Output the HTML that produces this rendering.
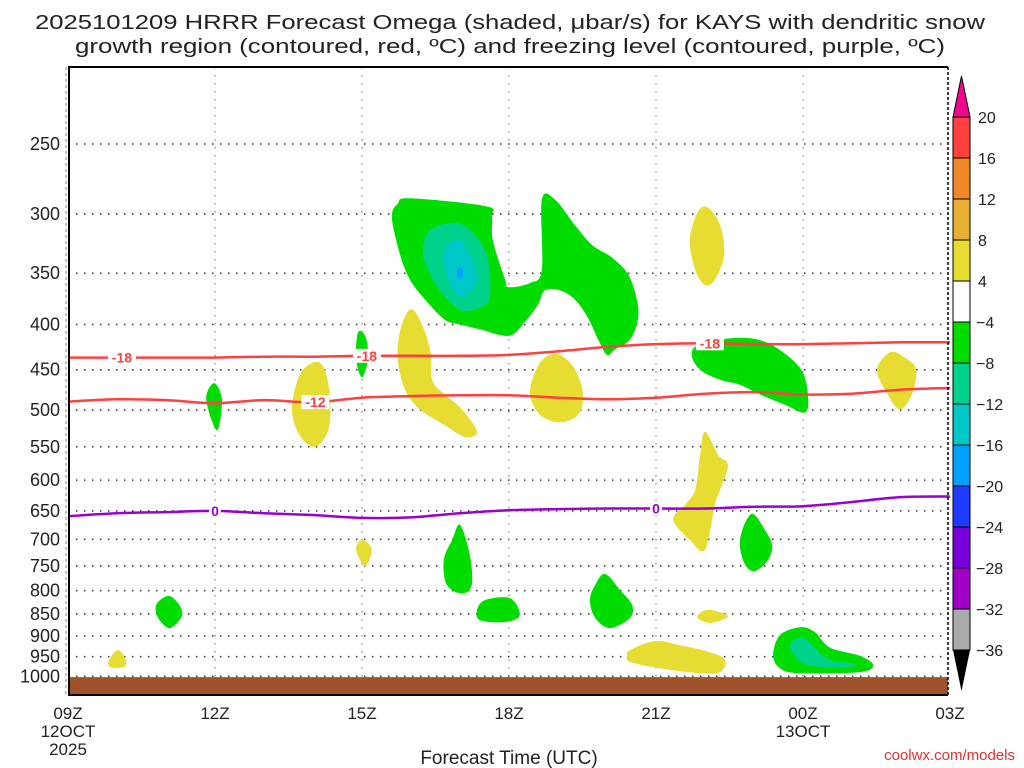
<!DOCTYPE html>
<html><head><meta charset="utf-8"><style>
html,body{margin:0;padding:0;background:#fff;}
svg{display:block;font-family:"Liberation Sans",sans-serif;}
</style></head><body>
<svg id="chart" width="1024" height="768" viewBox="0 0 1024 768" xmlns="http://www.w3.org/2000/svg">
<g>
<text x="510" y="29" font-size="20" text-anchor="middle" fill="#222" textLength="950" lengthAdjust="spacingAndGlyphs">2025101209 HRRR Forecast Omega (shaded, μbar/s) for KAYS with dendritic snow</text>
<text x="510" y="53" font-size="20" text-anchor="middle" fill="#222" textLength="870" lengthAdjust="spacingAndGlyphs">growth region (contoured, red, ºC) and freezing level (contoured, purple, ºC)</text>
</g>
<g id="grid"></g>
<g id="fills"></g>
<g id="ground"></g>
<g id="lines"></g>
<g id="axes"></g>
<g id="cbar"></g>
<text x="509" y="764" font-size="19" text-anchor="middle" fill="#222">Forecast Time (UTC)</text>
<text x="1015" y="760" font-size="15" text-anchor="end" fill="#e83030">coolwx.com/models</text>
</svg>
<script>
const xTickHours=[0,3,6,9,12,15,18];
const xTickLabels=["09Z","12Z","15Z","18Z","21Z","00Z","03Z"];
const yTicks=[250,300,350,400,450,500,550,600,650,700,750,800,850,900,950,1000];
const cbLevels=[20,16,12,8,4,-4,-8,-12,-16,-20,-24,-28,-32,-36];
const cbColors=["#ff4040","#f0882a","#e8b030","#e6dc32","#ffffff","#00dc00","#00d28c","#00c8c8","#00a0ff","#1e3cff","#7800dc","#a000c8","#aaaaaa"];
const blobHours=[
[6.61,6.73,6.98,8.53,8.65,8.67,8.92,9.0,9.43,9.67,9.67,9.94,10.35,10.69,11.1,11.43,11.61,11.63,11.47,11.16,11.0,10.82,10.61,10.35,10.04,9.73,9.59,9.33,9.0,8.41,8.0,7.69,7.29,6.98,6.78],
[7.24,7.39,7.94,8.35,8.57,8.61,8.41,8.0,7.59,7.33],
[7.69,8.0,8.24,8.35,8.24,8.0,7.84,7.69],
[7.95,8.05,8.05,7.95],
[4.73,5.04,5.24,5.35,5.31,5.04,4.73,4.57],
[6.98,7.18,7.39,7.43,7.69,8.04,8.35,8.1,7.69,7.18,6.88,6.73,6.78],
[9.73,10.04,10.35,10.51,10.41,10.04,9.63,9.43,9.53],
[12.86,13.06,13.31,13.39,13.2,13.0,12.8,12.69],
[13.0,13.27,13.47,13.31,13.2,13.0,12.69,12.35,12.59,12.8,12.9],
[12.9,13.71,14.33,14.94,15.1,15.04,14.63,14.12,13.71,13.31,12.9,12.73],
[16.78,17.08,17.31,17.22,16.98,16.73,16.51],
[5.92,6.08,6.12,6.0,5.88],
[2.98,3.14,3.04,2.82],
[8.0,8.2,8.24,8.04,7.73,7.67,7.84],
[6.0,6.2,6.06,5.88],
[13.98,14.22,14.37,14.29,14.02,13.82,13.71,13.8],
[10.96,11.27,11.51,11.47,11.06,10.76,10.65,10.76],
[8.51,9.02,9.22,8.92,8.41,8.35],
[2.04,2.24,2.33,2.08,1.84,1.8],
[13.06,13.47,13.1,12.84],
[11.47,11.98,12.49,13.1,13.41,13.31,12.9,12.08,11.47,11.41],
[14.53,14.94,15.24,15.55,16.16,16.43,16.16,14.94,14.53,14.39],
[14.73,14.98,15.24,15.55,16.06,15.96,15.35,14.94],
[1.02,1.18,1.14,0.86,0.84]
];
const blobPres=[
[303,292,288,294,302,321,356,363,359,347,289,289,309,325,336,351,375,395,416,427,433,416,393,375,366,366,380,397,412,405,400,395,375,356,334],
[330,313,307,319,338,372,383,385,366,345],
[328,321,337,354,366,372,363,344],
[346,346,354,354],
[456,441,450,486,527,550,534,499],
[385,395,427,462,480,499,529,536,520,499,474,438,406],
[436,433,450,480,506,516,506,480,453],
[298,295,309,334,356,361,347,321],
[529,562,577,615,640,719,701,665,640,615,562],
[421,414,421,448,480,503,493,480,468,462,450,433],
[430,436,450,480,499,480,450],
[408,414,438,459,438],
[466,486,527,486],
[674,729,788,806,788,738,701],
[701,719,750,719],
[655,683,710,738,760,748,710,674],
[766,799,830,859,882,859,820,788],
[820,816,853,868,864,841],
[811,826,853,882,859,830],
[841,855,870,857],
[934,912,922,939,958,989,992,979,963,946],
[898,880,891,928,948,971,989,992,979,946],
[922,903,928,958,968,976,976,963],
[934,958,976,976,958]
];
const blobLevel=[5,6,7,8,3,3,3,3,3,5,3,5,5,5,3,5,5,5,5,3,3,5,6,3];
const lineHours=[0,1,2,3,4,5,6,7,8,9,10,11,12,13,14,15,16,17,18];
const lineM18=[436,436,436,436,435,435,434,434,434,433,429,424,421,420,421,421,420,419,419];
const lineM12=[489,486,487,491,487,490,484,482,481,481,484,486,484,479,477,480,479,474,472];
const line0=[659,654,652,650,654,657,662,661,654,649,647,646,646,646,643,642,635,627,626];
const labelsM18=[1.1,6.1,13.1];
const labelsM12=[5.05];
const labels0=[3.0,12.0];

(function(){
const X0=68,X1=950,HMAX=18,Y0=67,Y1=695;
const ppx=384;
function xs(h){return X0+(X1-X0)*h/HMAX;}
function ys(p){return 144+ppx*Math.log(p/250);}
const NS="http://www.w3.org/2000/svg";
function mk(tag,parent,attrs){const e=document.createElementNS(NS,tag);for(const k in attrs)e.setAttribute(k,attrs[k]);parent.appendChild(e);return e;}
function smoothClosed(pts){let d="";const n=pts.length;for(let i=0;i<n;i++){const p0=pts[(i-1+n)%n],p1=pts[i],p2=pts[(i+1)%n],p3=pts[(i+2)%n];if(i===0)d+="M"+p1[0].toFixed(1)+","+p1[1].toFixed(1);const c1=[p1[0]+(p2[0]-p0[0])/6,p1[1]+(p2[1]-p0[1])/6],c2=[p2[0]-(p3[0]-p1[0])/6,p2[1]-(p3[1]-p1[1])/6];d+="C"+c1.map(v=>v.toFixed(1))+" "+c2.map(v=>v.toFixed(1))+" "+p2.map(v=>v.toFixed(1));}return d+"Z";}
function smoothOpen(pts){let d="M"+pts[0][0].toFixed(1)+","+pts[0][1].toFixed(1);const n=pts.length;for(let i=0;i<n-1;i++){const p0=pts[Math.max(i-1,0)],p1=pts[i],p2=pts[i+1],p3=pts[Math.min(i+2,n-1)];const c1=[p1[0]+(p2[0]-p0[0])/6,p1[1]+(p2[1]-p0[1])/6],c2=[p2[0]-(p3[0]-p1[0])/6,p2[1]-(p3[1]-p1[1])/6];d+="C"+c1.map(v=>v.toFixed(1))+" "+c2.map(v=>v.toFixed(1))+" "+p2.map(v=>v.toFixed(1));}return d;}

const grid=document.getElementById('grid');
yTicks.forEach(p=>{const l=mk('line',grid,{x1:X0,x2:X1-2,y1:ys(p),y2:ys(p),stroke:'#333','stroke-width':1.5,'stroke-dasharray':'1.5 6.5'});

});
xTickHours.slice(1,6).forEach(h=>{const l=mk('line',grid,{x1:xs(h),x2:xs(h),y1:Y0,y2:Y1,stroke:'#999','stroke-width':1.5,'stroke-dasharray':'1.5 6.5'});

});

const fills=document.getElementById('fills');
blobHours.forEach((hs,i)=>{const pts=hs.map((h,j)=>[xs(h),ys(blobPres[i][j])]);
const e=mk('path',fills,{d:smoothClosed(pts),fill:cbColors[blobLevel[i]]});

});

const gnd=document.getElementById('ground');
const gr=mk('rect',gnd,{x:X0+1,y:ys(1002),width:X1-X0-3,height:Y1-1-ys(1002),fill:'#a0522d'});



const lines=document.getElementById('lines');
function drawLine(vals,color,name,labelH,txt){const pts=lineHours.map((h,i)=>[xs(h),ys(vals[i])]);
const e=mk('path',lines,{d:smoothOpen(pts),fill:'none',stroke:color,'stroke-width':2.5});


labelH.forEach(h=>{const i=Math.floor(h),f=h-i;const v=vals[i]+(vals[Math.min(i+1,vals.length-1)]-vals[i])*f;const x=xs(h),y=ys(v);
const w=txt.length*8+4;
mk('rect',lines,{x:x-w/2,y:y-7,width:w,height:14,fill:'#fff'});
const t=mk('text',lines,{x:x,y:y+5,'font-size':14,'font-weight':'bold','text-anchor':'middle',fill:color});t.textContent=txt;

});}
drawLine(lineM18,'#ff4040','contour-minus18',labelsM18,'-18');
drawLine(lineM12,'#ff4040','contour-minus12',labelsM12,'-12');
drawLine(line0,'#9a00d0','freezing-level-0',labels0,'0');

const ax=document.getElementById('axes');
mk('line',ax,{x1:X0,x2:X1-2,y1:Y0,y2:Y0,stroke:'#000','stroke-width':2});
mk('line',ax,{x1:X0+1,x2:X0+1,y1:Y0,y2:Y1,stroke:'#000','stroke-width':2});
mk('line',ax,{x1:X0,x2:X1-2,y1:Y1,y2:Y1,stroke:'#000','stroke-width':2});
mk('line',ax,{x1:X1-2,x2:X1-2,y1:Y0,y2:Y1,stroke:'#000','stroke-width':1.5,'stroke-dasharray':'3 2'});
mk('line',ax,{x1:X0-2,x2:X0-2,y1:Y0,y2:Y1,stroke:'#888','stroke-width':1,'stroke-dasharray':'3 3'});
yTicks.forEach(p=>{const t=mk('text',ax,{x:60,y:ys(p)+6,'font-size':18,'text-anchor':'end',fill:'#222'});t.textContent=p;

});
xTickHours.forEach((h,i)=>{const t=mk('text',ax,{x:xs(h),y:719,'font-size':17,'text-anchor':'middle',fill:'#222'});t.textContent=xTickLabels[i];

});
[["12OCT",0,737],["2025",0,755],["13OCT",15,737]].forEach(a=>{const t=mk('text',ax,{x:xs(a[1]),y:a[2],'font-size':17,'text-anchor':'middle',fill:'#222'});t.textContent=a[0];

});

const cb=document.getElementById('cbar');
const CBX=953,CBW=17,CBT=117,CBH=41;
const cbTop=mk('polygon',cb,{points:`${CBX},${CBT} ${CBX+CBW},${CBT} ${CBX+CBW/2},${CBT-41}`,fill:'#f0088c',stroke:'#000','stroke-width':1});


cbColors.forEach((c,i)=>{const r=mk('rect',cb,{x:CBX,y:CBT+i*CBH,width:CBW,height:CBH,fill:c,stroke:'#000','stroke-width':1});

});
const bEnd=CBT+cbColors.length*CBH;
const cbBot=mk('polygon',cb,{points:`${CBX},${bEnd} ${CBX+CBW},${bEnd} ${CBX+CBW/2},${bEnd+41}`,fill:'#000'});


cbLevels.forEach((v,i)=>{const t=mk('text',cb,{x:v<0?976:978,y:CBT+i*CBH+6,'font-size':16,fill:'#222'});t.textContent=(v<0?'\u2212'+(-v):v);

});
})();
</script>
</body></html>
